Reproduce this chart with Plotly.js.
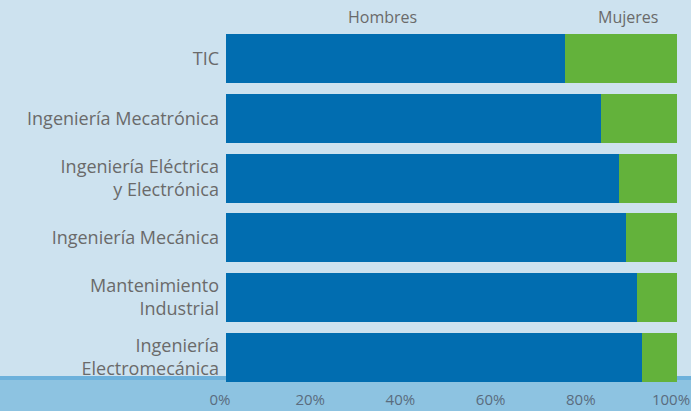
<!DOCTYPE html>
<html>
<head>
<meta charset="utf-8">
<script src="https://cdn.plot.ly/plotly-3.0.1.min.js"></script>
<style>html,body{margin:0;padding:0;background:#cde2ef;overflow:hidden;}#chart{width:691px;height:411px;}</style>
</head>
<body>
<div id="chart"></div>
<script>
const categories = ["TIC", "Ingeniería Mecatrónica", "Ingeniería Eléctrica<br>y Electrónica", "Ingeniería Mecánica", "Mantenimiento<br>Industrial", "Ingeniería<br>Electromecánica"];
const hombres = [75.2, 83.1, 87.1, 88.7, 91.1, 92.2];
const mujeres = [24.8, 16.9, 12.9, 11.3, 8.9, 7.8];
const seriesNames = ["Hombres", "Mujeres"];
const xTicks = [0, 20, 40, 60, 80, 100];

const W = 691, H = 411;
const mL = 226, mR = 14, mT = 29, mB = 24;
const pw = W - mL - mR, ph = H - mT - mB;
const py = p => (H - mB - p) / ph; // pixel y -> paper y

const traces = [
  {type: 'bar', orientation: 'h', y: categories, x: hombres, name: seriesNames[0],
   marker: {color: '#016db0', line: {width: 0}}, hoverinfo: 'skip'},
  {type: 'bar', orientation: 'h', y: categories, x: mujeres, name: seriesNames[1],
   marker: {color: '#63b23b', line: {width: 0}}, hoverinfo: 'skip'}
];

const font = "'Open Sans', 'DejaVu Sans', sans-serif";
const layout = {
  width: W, height: H,
  margin: {l: mL, r: mR, t: mT, b: mB, pad: 0},
  paper_bgcolor: '#cde2ef',
  plot_bgcolor: '#cde2ef',
  barmode: 'stack',
  bargap: 0.18,
  showlegend: false,
  font: {family: font, color: '#666666', size: 17},
  xaxis: {range: [0, 100], tickvals: xTicks, ticktext: xTicks.map(v => v + '%'),
          showgrid: false, zeroline: false, showline: false, ticks: '',
          ticklabeloverflow: 'allow', ticklabelstandoff: 2, ticklabelshift: -6,
          tickfont: {size: 15, color: '#5a6c7e', family: font}, fixedrange: true},
  yaxis: {autorange: 'reversed', showgrid: false, zeroline: false, showline: false, ticks: '',
          ticklabelstandoff: 6,
          tickfont: {size: 18, color: '#6a6a6a', family: font}, fixedrange: true},
  shapes: [
    {type: 'rect', xref: 'paper', yref: 'paper', layer: 'below',
     x0: -mL / pw, x1: (W - mL) / pw, y0: py(H + 2), y1: py(376),
     fillcolor: '#8dc3e1', line: {width: 0}},
    {type: 'rect', xref: 'paper', yref: 'paper', layer: 'below',
     x0: -mL / pw, x1: (W - mL) / pw, y0: py(380), y1: py(376),
     fillcolor: '#6db1db', line: {width: 0}}
  ],
  annotations: [
    {text: seriesNames[0], xref: 'x', yref: 'paper', x: 34.6, y: py(17), showarrow: false,
     xanchor: 'center', yanchor: 'middle', font: {size: 16, color: '#6a6a6a', family: font}},
    {text: seriesNames[1], xref: 'x', yref: 'paper', x: 89.1, y: py(17), showarrow: false,
     xanchor: 'center', yanchor: 'middle', font: {size: 16, color: '#6a6a6a', family: font}}
  ]
};

Plotly.newPlot('chart', traces, layout, {displayModeBar: false, staticPlot: true});
</script>
</body>
</html>
